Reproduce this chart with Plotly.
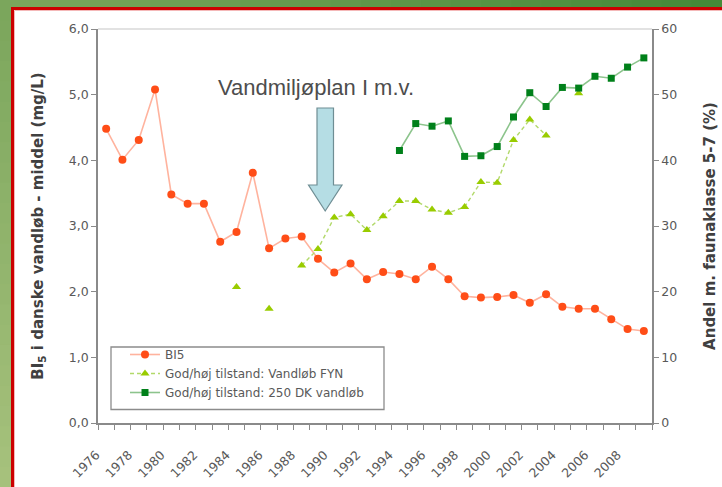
import plotly.graph_objects as go

# ---------------- data ----------------
years = list(range(1976, 2010))
bi5 = [4.48, 4.01, 4.31, 5.08, 3.48, 3.34, 3.34, 2.76, 2.91, 3.81,
       2.66, 2.81, 2.84, 2.50, 2.29, 2.43, 2.19, 2.30, 2.27, 2.19,
       2.38, 2.19, 1.93, 1.91, 1.92, 1.95, 1.83, 1.96, 1.77, 1.74,
       1.74, 1.58, 1.43, 1.40]
fyn = [None, None, None, None, None, None, None, None, 20.7, None,
       17.4, None, 24.0, 26.5, 31.3, 31.8, 29.4, 31.5, 33.8, 33.8,
       32.5, 32.0, 32.9, 36.7, 36.6, 43.1, 46.2, 43.8, None, 50.2,
       None, None, None, None]
dk250 = [None] * 18 + [41.5, 45.6, 45.2, 46.0, 40.6, 40.7, 42.1, 46.6,
                       50.3, 48.2, 51.1, 51.0, 52.8, 52.5, 54.2, 55.6]
tick_years = list(range(1976, 2009, 2))
tick_labels = [str(y) for y in tick_years]
left_ticks = [0, 1, 2, 3, 4, 5, 6]
right_ticks = [0, 10, 20, 30, 40, 50, 60]

names = ["BI5", "God/høj tilstand: Vandløb FYN", "God/høj tilstand: 250 DK vandløb"]

# ---------------- layout geometry ----------------
W, H = 722, 487
ML, MR, MT, MB = 98, 70, 29, 64
PW, PH = W - ML - MR, H - MT - MB


def px(x):
    return (x - ML) / PW


def py(y):
    return (H - MB - y) / PH


TXT = "#595959"
AX = "#8a8a8a"
FONT = "DejaVu Sans, Verdana, sans-serif"
AFONT = "Liberation Sans, Arial, sans-serif"

fig = go.Figure()

fig.add_trace(go.Scatter(
    x=years, y=bi5, name=names[0], mode="lines+markers",
    line=dict(color="#ffb39e", width=1.6),
    marker=dict(symbol="circle", size=8, color="#ff4d17"),
    yaxis="y"))
fig.add_trace(go.Scatter(
    x=years, y=fyn, name=names[1], mode="lines+markers", connectgaps=False,
    line=dict(color="#b2d96a", width=1.4, dash="4px,3px"),
    marker=dict(symbol="triangle-up", size=8, color="#99cc00"),
    yaxis="y2"))
fig.add_trace(go.Scatter(
    x=years, y=dk250, name=names[2], mode="lines+markers", connectgaps=False,
    line=dict(color="#8cc48c", width=1.6),
    marker=dict(symbol="square", size=7, color="#00801a"),
    yaxis="y2"))

shapes = []


def hexmix(c1, c2, t):
    a = [int(c1[i:i + 2], 16) for i in (1, 3, 5)]
    b = [int(c2[i:i + 2], 16) for i in (1, 3, 5)]
    return "#%02x%02x%02x" % tuple(round(a[k] + (b[k] - a[k]) * t) for k in range(3))


# green gradient frame (top strip and left strip)
N = 24
for i in range(N):
    x0 = i * W / N
    x1 = (i + 1) * W / N
    shapes.append(dict(type="rect", xref="paper", yref="paper", layer="below",
                       x0=px(x0), x1=px(x1 + 1), y0=py(11), y1=py(-2),
                       line=dict(width=0), fillcolor=hexmix("#7ba65c", "#458a38", i / (N - 1))))
for i in range(N):
    y0 = i * H / N
    y1 = (i + 1) * H / N
    shapes.append(dict(type="rect", xref="paper", yref="paper", layer="below",
                       x0=px(-2), x1=px(12), y0=py(y1 + 1), y1=py(y0),
                       line=dict(width=0), fillcolor=hexmix("#7ba65c", "#a6c17c", i / (N - 1))))
# white panel with red border
shapes.append(dict(type="rect", xref="paper", yref="paper", layer="below",
                   x0=px(12.5), x1=px(740), y0=py(500), y1=py(8.5),
                   line=dict(color="#cc0000", width=3), fillcolor="white"))
shapes.append(dict(type="rect", xref="paper", yref="paper", layer="below",
                   x0=px(14.5), x1=px(745), y0=py(505), y1=py(10.5),
                   line=dict(color="#f4b8b8", width=1), fillcolor="rgba(0,0,0,0)"))
# legend box
shapes.append(dict(type="rect", xref="paper", yref="paper", layer="below",
                   x0=px(111), x1=px(384), y0=py(409.5), y1=py(347),
                   line=dict(color="#8c8c8c", width=1.3), fillcolor="white"))
# top border line of the plot area
shapes.append(dict(type="line", xref="paper", yref="paper", x0=0, x1=1, y0=1, y1=1,
                   line=dict(color="#d9d9d9", width=1.5)))
# block arrow
pts = [(317, 108), (333.5, 108), (333.5, 185), (342, 185), (325.2, 211),
       (308.5, 185), (317, 185)]
path = "M " + " L ".join("%.5f,%.5f" % (px(a), py(b)) for a, b in pts) + " Z"
shapes.append(dict(type="path", xref="paper", yref="paper", path=path,
                   fillcolor="#b5dde4", line=dict(color="#6f8e94", width=1.2)))

annotations = [dict(
    text="Vandmiljøplan I m.v.", xref="paper", yref="paper",
    x=px(315.5), y=py(88), xanchor="center", yanchor="middle", showarrow=False,
    font=dict(family=AFONT, size=22, color="#4d4d4d"))]

fig.update_layout(
    width=W, height=H,
    margin=dict(l=ML, r=MR, t=MT, b=MB, pad=0, autoexpand=False),
    paper_bgcolor="#7ba65c", plot_bgcolor="rgba(0,0,0,0)",
    separators=",.",
    font=dict(family=FONT, color=TXT, size=12.5),
    shapes=shapes, annotations=annotations,
    showlegend=True,
    legend=dict(x=px(125), y=py(340), xanchor="left", yanchor="top",
                bgcolor="rgba(0,0,0,0)", borderwidth=0,
                font=dict(family=FONT, size=12, color=TXT),
                tracegroupgap=0),
    xaxis=dict(range=[1975.5, 2009.5], tickmode="array", tickvals=tick_years,
               ticktext=tick_labels, tickangle=-45, ticks="", automargin=False,
               showline=True, linecolor=AX, linewidth=1.5, showgrid=False,
               zeroline=False, tickfont=dict(size=12.5, color=TXT),
               ticklabelstandoff=18, ticklabelshift=-10,
               minor=dict(tick0=1975.5, dtick=1, ticks="outside", ticklen=5,
                          tickcolor=AX, tickwidth=1, showgrid=False)),
    yaxis=dict(range=[0, 6], tickmode="array", tickvals=left_ticks, automargin=False,
               tickformat=".1f", ticks="outside", ticklen=5, tickcolor=AX,
               showline=True, linecolor=AX, linewidth=1.5, showgrid=False,
               zeroline=False, tickfont=dict(size=12.5, color=TXT),
               title=dict(text="<b>BI<sub>5</sub> i danske vandløb - middel (mg/L)</b>",
                          font=dict(family=FONT, size=15, color="#404040"), standoff=22)),
    yaxis2=dict(range=[0, 60], tickmode="array", tickvals=right_ticks, automargin=False,
                overlaying="y", side="right", ticks="outside", ticklen=5,
                tickcolor=AX, showline=True, linecolor=AX, linewidth=1.5,
                showgrid=False, zeroline=False, tickfont=dict(size=12.5, color=TXT),
                title=dict(text="<b>Andel m. faunaklasse 5-7 (%)</b>",
                           font=dict(family=FONT, size=15, color="#404040"), standoff=28)),
)

fig.write_html("out.html", config={"displayModeBar": False},
               post_script="document.body.style.margin='0';")
